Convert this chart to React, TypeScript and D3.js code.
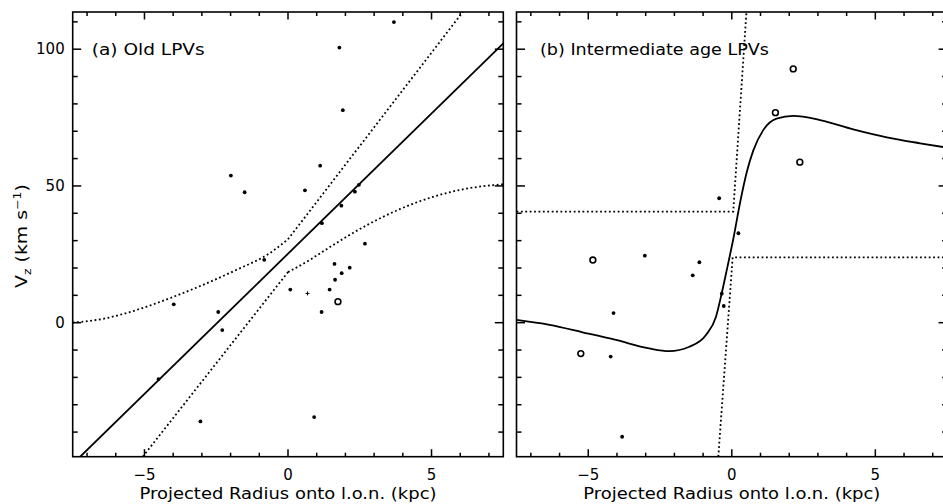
import React from "react";
import * as d3 from "d3";

// ---------- axes ----------
const X_DOMAIN: [number, number] = [-7.5, 7.5];
const Y_DOMAIN: [number, number] = [-49, 113.6];
const X_MAJOR = [-5, 0, 5];
const X_MINOR = [-7, -6, -4, -3, -2, -1, 1, 2, 3, 4, 6, 7];
const Y_MAJOR = [0, 50, 100];
const Y_MINOR = [-40, -30, -20, -10, 10, 20, 30, 40, 60, 70, 80, 90, 110];
const X_TITLE = "Projected Radius onto l.o.n. (kpc)";

// ---------- panel (a) Old LPVs ----------
const OLD_DOTS: [number, number][] = [
  [-1.99, 53.8], [-1.51, 47.7], [0.59, 48.4], [1.12, 57.4], [1.79, 100.6],
  [1.91, 77.7], [3.69, 109.9], [2.47, 50.4], [2.33, 47.9], [1.86, 42.8],
  [1.18, 36.4], [2.68, 28.9], [-0.83, 23.0], [1.62, 21.5], [2.15, 20.1],
  [1.87, 18.1], [1.64, 15.7], [0.08, 12.1], [1.45, 12.1], [1.17, 3.9],
  [-3.98, 6.7], [-2.43, 3.9], [-2.29, -2.7], [-4.51, -20.6], [-3.05, -36.1],
  [0.91, -34.5],
];
const OLD_OPEN: [number, number][] = [[1.74, 7.7]];
const OLD_PLUS: [number, number][] = [[0.68, 10.7]];
const OLD_FIT: [number, number][] = [[-7.24, -49], [7.5, 102.1]];
// upper envelope: curved for x<0, straight for x>0
const OLD_UPPER_CURVED: [number, number][] = [
  [-7.5, 0], [-6.45, 1.4], [-5.29, 4.6], [-4.13, 8.9], [-2.97, 13.8],
  [-1.8, 19.3], [-0.64, 25.4], [0, 30.5],
];
const OLD_UPPER_STRAIGHT: [number, number][] = [[0, 30.5], [6.09, 113.6]];
// lower envelope: straight for x<0, curved for x>0
const OLD_LOWER_STRAIGHT: [number, number][] = [[-5.06, -49], [0, 18.5]];
const OLD_LOWER_CURVED: [number, number][] = [
  [0, 18.5], [0.75, 22.9], [1.33, 26.8], [2.72, 35.5], [3.89, 41.5],
  [5.05, 46.0], [6.21, 49.0], [7.5, 50.6],
];

// ---------- panel (b) Intermediate age LPVs ----------
const INT_DOTS: [number, number][] = [
  [-0.44, 45.5], [0.23, 32.7], [-3.03, 24.5], [-1.13, 22.1], [-1.36, 17.3],
  [-0.35, 10.6], [-0.28, 6.1], [-4.12, 3.5], [-4.22, -12.4], [-3.82, -41.7],
];
const INT_OPEN: [number, number][] = [
  [2.14, 92.8], [1.52, 76.8], [2.37, 58.7], [-4.84, 22.9], [-5.26, -11.3],
];
const INT_CURVE: [number, number][] = [
  [-7.5, 1.0], [-6.35, -0.8], [-5.2, -3.5], [-4.04, -6.3], [-2.88, -9.4],
  [-2.18, -10.4], [-1.48, -8.8], [-0.9, -4.5], [-0.55, 2.2], [-0.35, 10.8],
  [-0.15, 20.5], [0.05, 30.5], [0.3, 44.5], [0.52, 55], [0.75, 63],
  [1.1, 70.5], [1.56, 74.6], [2.14, 75.6], [3.07, 74.1], [4.23, 70.7],
  [5.4, 67.8], [6.56, 65.6], [7.5, 64.0],
];
const INT_UPPER: [number, number][] = [[-7.5, 40.6], [0.05, 40.6], [0.51, 113.6]];
const INT_LOWER: [number, number][] = [[-0.47, -49], [0.03, 23.9], [7.5, 23.9]];

// ---------- layout ----------
const W = 943;
const H = 504;
const TOP = 12;
const BOTTOM = 456.7;
const FONT = "'DejaVu Sans', sans-serif";

const fmt = (v: number) => (v < 0 ? "\u2212" + Math.abs(v) : String(v));

type Pt = [number, number];
interface Piece {
  pts: Pt[];
  curved: boolean;
}

interface PanelProps {
  id: string;
  left: number;
  right: number;
  label: string;
  labelX: number;
  labelW: number;
  dots: Pt[];
  open: Pt[];
  plus: Pt[];
  solid: Piece;
  dotted: Piece[];
  yLabels: boolean;
}

function Panel(p: PanelProps) {
  const x = d3.scaleLinear().domain(X_DOMAIN).range([p.left, p.right]);
  const y = d3.scaleLinear().domain(Y_DOMAIN).range([BOTTOM, TOP]);
  const path = (pc: Piece) =>
    d3
      .line<Pt>()
      .x((d) => x(d[0]))
      .y((d) => y(d[1]))
      .curve(pc.curved ? d3.curveMonotoneX : d3.curveLinear)(pc.pts) || "";
  const XMJ = 7.5, XMN = 4, YMJ = 8.5, YMN = 5;
  const ticks: JSX.Element[] = [];
  X_MAJOR.forEach((v) => {
    ticks.push(<line key={"xb" + v} x1={x(v)} x2={x(v)} y1={BOTTOM} y2={BOTTOM - XMJ} />);
    ticks.push(<line key={"xt" + v} x1={x(v)} x2={x(v)} y1={TOP} y2={TOP + XMJ} />);
  });
  X_MINOR.forEach((v) => {
    ticks.push(<line key={"xbm" + v} x1={x(v)} x2={x(v)} y1={BOTTOM} y2={BOTTOM - XMN} />);
    ticks.push(<line key={"xtm" + v} x1={x(v)} x2={x(v)} y1={TOP} y2={TOP + XMN} />);
  });
  Y_MAJOR.forEach((v) => {
    ticks.push(<line key={"yl" + v} x1={p.left} x2={p.left + YMJ} y1={y(v)} y2={y(v)} />);
    ticks.push(<line key={"yr" + v} x1={p.right} x2={p.right - YMJ} y1={y(v)} y2={y(v)} />);
  });
  Y_MINOR.forEach((v) => {
    ticks.push(<line key={"ylm" + v} x1={p.left} x2={p.left + YMN} y1={y(v)} y2={y(v)} />);
    ticks.push(<line key={"yrm" + v} x1={p.right} x2={p.right - YMN} y1={y(v)} y2={y(v)} />);
  });
  return (
    <g>
      <defs>
        <clipPath id={p.id}>
          <rect x={p.left} y={TOP} width={p.right - p.left} height={BOTTOM - TOP} />
        </clipPath>
      </defs>
      <g clipPath={`url(#${p.id})`} fill="none" stroke="#000">
        {p.dotted.map((pc, i) => (
          <path key={i} d={path(pc)} strokeWidth={1.8} strokeDasharray="1.8 2.6" />
        ))}
        <path d={path(p.solid)} strokeWidth={1.8} />
      </g>
      <g stroke="#000" strokeWidth={1.5}>
        {ticks}
      </g>
      <rect
        x={p.left}
        y={TOP}
        width={p.right - p.left}
        height={BOTTOM - TOP}
        fill="none"
        stroke="#000"
        strokeWidth={1.6}
      />
      {p.dots.map((d, i) => (
        <circle key={"d" + i} cx={x(d[0])} cy={y(d[1])} r={1.9} fill="#000" />
      ))}
      {p.open.map((d, i) => (
        <circle key={"o" + i} cx={x(d[0])} cy={y(d[1])} r={2.9} fill="none" stroke="#000" strokeWidth={1.6} />
      ))}
      {p.plus.map((d, i) => (
        <path
          key={"p" + i}
          transform={`translate(${x(d[0])},${y(d[1])})`}
          d="M-2,0H2M0,-2V2"
          stroke="#000"
          strokeWidth={1}
        />
      ))}
      <g fontFamily={FONT} fontSize={15} fill="#000">
        {X_MAJOR.map((v) => (
          <text key={"xl" + v} x={x(v)} y={480} textAnchor="middle">
            {fmt(v)}
          </text>
        ))}
        {p.yLabels &&
          Y_MAJOR.map((v) => (
            <text key={"yl" + v} x={p.left - 8} y={y(v) + 5.3} textAnchor="end">
              {fmt(v)}
            </text>
          ))}
        <text x={p.labelX} y={55} textLength={p.labelW} lengthAdjust="spacingAndGlyphs">
          {p.label}
        </text>
        <text
          x={(p.left + p.right) / 2 - 148.5}
          y={499}
          textLength={297}
          lengthAdjust="spacingAndGlyphs"
        >
          {X_TITLE}
        </text>
      </g>
    </g>
  );
}

export default function App() {
  return (
    <svg
      width={W}
      height={H}
      viewBox={`0 0 ${W} ${H}`}
      style={{ position: "absolute", left: 0, top: 0, background: "#fff" }}
    >
      <rect x={0} y={0} width={W} height={H} fill="#fff" />
      <Panel
        id="clipA"
        left={72.7}
        right={503.3}
        label="(a) Old LPVs"
        labelX={91.7}
        labelW={113}
        dots={OLD_DOTS}
        open={OLD_OPEN}
        plus={OLD_PLUS}
        solid={{ pts: OLD_FIT, curved: false }}
        dotted={[
          { pts: OLD_UPPER_CURVED, curved: true },
          { pts: OLD_UPPER_STRAIGHT, curved: false },
          { pts: OLD_LOWER_STRAIGHT, curved: false },
          { pts: OLD_LOWER_CURVED, curved: true },
        ]}
        yLabels={true}
      />
      <Panel
        id="clipB"
        left={516.5}
        right={947.1}
        label="(b) Intermediate age LPVs"
        labelX={540}
        labelW={229}
        dots={INT_DOTS}
        open={INT_OPEN}
        plus={[]}
        solid={{ pts: INT_CURVE, curved: true }}
        dotted={[
          { pts: INT_UPPER, curved: false },
          { pts: INT_LOWER, curved: false },
        ]}
        yLabels={false}
      />
      <text
        transform="translate(27,236) rotate(-90)"
        textAnchor="middle"
        fontFamily={FONT}
        fontSize={15}
        fill="#000"
        textLength={104}
        lengthAdjust="spacingAndGlyphs"
      >
        V
        <tspan dy={4} fontSize={10}>
          z
        </tspan>
        <tspan dy={-4}> (km s</tspan>
        <tspan dy={-6} fontSize={10}>
          {"\u22121"}
        </tspan>
        <tspan dy={6}>)</tspan>
      </text>
    </svg>
  );
}
